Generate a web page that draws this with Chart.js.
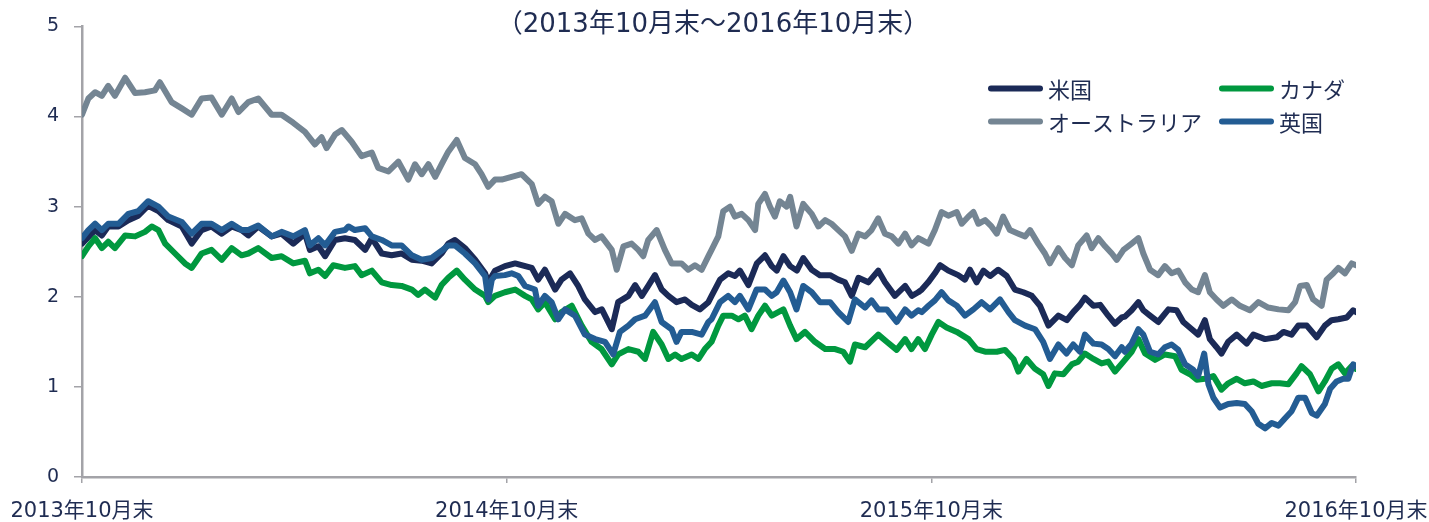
<!DOCTYPE html>
<html><head><meta charset="utf-8">
<script src="https://cdn.jsdelivr.net/npm/chart.js@4.4.0/dist/chart.umd.min.js"></script>
<style>html,body{margin:0;padding:0;background:#fff;}#wrap{width:1429px;height:522px;}</style>
</head><body><div id="wrap"><canvas id="c" width="1429" height="522"></canvas></div>
<script>
const chartTitle = '（2013年10月末～2016年10月末）';
const seriesNames = ['米国', 'カナダ', 'オーストラリア', '英国'];
const seriesColors = ['#1b2a57', '#00983f', '#748593', '#235c93'];
const xTickMonths = [0, 12, 24, 36];
const xTickLabels = ['2013年10月末', '2014年10月末', '2015年10月末', '2016年10月末'];
const yTickValues = [0, 1, 2, 3, 4, 5];

// months elapsed since end of Oct 2013
const usMonths = [0,0.37,0.56,0.74,1.03,1.31,1.59,1.87,2.16,2.44,2.82,3.10,3.38,3.66,3.95,4.23,4.51,4.70,4.98,5.36,5.64,5.97,6.30,6.44,6.68,6.87,7.15,7.43,7.71,8.00,8.19,8.47,8.75,9.03,9.32,9.60,9.88,10.16,10.35,10.54,10.82,11.11,11.39,11.48,11.67,11.95,12.24,12.42,12.71,12.89,13.08,13.37,13.55,13.79,14.02,14.21,14.50,14.69,14.97,15.15,15.44,15.63,15.82,16.00,16.19,16.38,16.57,16.80,17.04,17.23,17.46,17.70,17.79,18.03,18.26,18.45,18.59,18.83,19.07,19.30,19.49,19.63,19.82,20.01,20.20,20.38,20.62,20.85,21.14,21.37,21.56,21.75,21.94,22.22,22.50,22.69,22.97,23.26,23.45,23.63,23.73,23.91,24.10,24.25,24.48,24.76,24.95,25.09,25.28,25.47,25.66,25.89,26.13,26.36,26.60,26.84,27.07,27.31,27.59,27.83,28.01,28.20,28.34,28.58,28.77,29.00,29.19,29.38,29.47,29.66,29.85,29.99,30.18,30.41,30.70,30.93,31.12,31.36,31.54,31.73,31.87,32.06,32.20,32.39,32.63,32.91,33.10,33.43,33.76,33.95,34.18,34.37,34.61,34.89,35.12,35.31,35.50,35.74,35.92,36];
const usValues = [2.59,2.74,2.68,2.78,2.78,2.85,2.90,3.01,2.95,2.85,2.78,2.59,2.74,2.78,2.70,2.78,2.74,2.68,2.78,2.67,2.70,2.59,2.70,2.52,2.56,2.45,2.63,2.65,2.63,2.52,2.65,2.48,2.46,2.48,2.41,2.40,2.37,2.48,2.59,2.63,2.54,2.41,2.26,2.16,2.29,2.34,2.37,2.35,2.32,2.19,2.30,2.08,2.19,2.26,2.12,1.97,1.83,1.86,1.64,1.94,2.01,2.13,2.01,2.12,2.24,2.08,2.01,1.94,1.97,1.91,1.86,1.94,2.01,2.19,2.26,2.23,2.29,2.13,2.37,2.46,2.34,2.29,2.45,2.34,2.29,2.43,2.30,2.24,2.24,2.19,2.16,2.01,2.21,2.16,2.29,2.16,2.01,2.12,2.01,2.05,2.08,2.16,2.26,2.35,2.29,2.24,2.19,2.30,2.16,2.29,2.23,2.30,2.23,2.08,2.05,2.01,1.90,1.68,1.79,1.74,1.83,1.91,1.99,1.90,1.91,1.79,1.70,1.77,1.78,1.85,1.94,1.85,1.79,1.72,1.86,1.85,1.72,1.64,1.58,1.74,1.53,1.44,1.37,1.50,1.58,1.48,1.58,1.53,1.55,1.61,1.58,1.68,1.68,1.55,1.68,1.74,1.75,1.77,1.85,1.83];

const caMonths = [0,0.18,0.37,0.56,0.74,0.93,1.22,1.50,1.78,1.97,2.16,2.35,2.63,2.91,3.10,3.38,3.66,3.95,4.23,4.51,4.70,4.98,5.36,5.64,5.97,6.30,6.44,6.68,6.87,7.10,7.43,7.71,7.90,8.19,8.47,8.75,9.03,9.32,9.50,9.69,9.98,10.16,10.35,10.59,10.82,11.11,11.39,11.48,11.67,11.95,12.24,12.52,12.71,12.89,13.08,13.37,13.55,13.84,14.12,14.40,14.68,14.97,15.15,15.44,15.72,15.91,16.14,16.38,16.57,16.76,16.94,17.23,17.42,17.60,17.79,17.98,18.12,18.36,18.55,18.73,18.92,19.11,19.30,19.49,19.82,20.01,20.19,20.43,20.71,21.00,21.28,21.51,21.70,21.84,22.13,22.50,22.74,23.02,23.26,23.44,23.63,23.82,24.01,24.20,24.43,24.72,25.05,25.28,25.52,25.85,26.08,26.32,26.46,26.69,26.93,27.16,27.31,27.49,27.73,27.97,28.15,28.34,28.58,28.81,29.00,29.19,29.43,29.66,29.85,30.04,30.32,30.60,30.89,31.07,31.31,31.50,31.73,31.97,32.20,32.39,32.63,32.86,33.10,33.33,33.62,33.85,34.09,34.32,34.46,34.70,34.94,35.12,35.31,35.50,35.69,35.88,36];
const caValues = [2.45,2.56,2.65,2.54,2.61,2.54,2.68,2.67,2.72,2.78,2.74,2.59,2.48,2.37,2.32,2.48,2.52,2.41,2.54,2.46,2.48,2.54,2.43,2.45,2.37,2.40,2.26,2.30,2.23,2.35,2.32,2.34,2.24,2.29,2.16,2.13,2.12,2.08,2.02,2.08,1.99,2.13,2.21,2.29,2.19,2.08,2.01,1.94,2.01,2.05,2.08,2.01,1.97,1.86,1.94,1.75,1.83,1.90,1.68,1.50,1.42,1.25,1.36,1.42,1.39,1.31,1.61,1.47,1.31,1.36,1.31,1.36,1.31,1.42,1.50,1.68,1.79,1.79,1.75,1.79,1.64,1.79,1.90,1.79,1.86,1.68,1.53,1.61,1.50,1.42,1.42,1.39,1.28,1.47,1.44,1.58,1.50,1.41,1.53,1.42,1.53,1.42,1.58,1.72,1.66,1.61,1.53,1.42,1.39,1.39,1.41,1.31,1.17,1.31,1.20,1.14,1.01,1.15,1.14,1.25,1.28,1.37,1.31,1.26,1.28,1.17,1.28,1.39,1.53,1.37,1.30,1.36,1.34,1.19,1.14,1.08,1.09,1.12,0.97,1.04,1.09,1.04,1.06,1.01,1.04,1.04,1.03,1.15,1.23,1.14,0.95,1.06,1.20,1.25,1.15,1.23,1.20];

const auMonths = [0,0.18,0.37,0.56,0.74,0.93,1.22,1.50,1.78,2.06,2.20,2.53,2.82,3.10,3.38,3.66,3.95,4.23,4.42,4.70,4.98,5.36,5.64,5.97,6.30,6.58,6.77,6.91,7.15,7.34,7.62,7.90,8.19,8.37,8.66,8.94,9.22,9.41,9.60,9.79,9.98,10.16,10.35,10.59,10.82,11.11,11.29,11.48,11.67,11.86,12.14,12.42,12.71,12.89,13.08,13.27,13.46,13.65,13.93,14.12,14.31,14.50,14.68,14.97,15.11,15.30,15.53,15.72,15.86,16.00,16.24,16.47,16.66,16.94,17.13,17.32,17.51,17.70,17.79,17.98,18.12,18.31,18.45,18.64,18.83,19.02,19.11,19.30,19.44,19.58,19.72,19.91,20.01,20.19,20.38,20.62,20.81,21.00,21.18,21.37,21.56,21.75,21.94,22.13,22.31,22.50,22.69,22.88,23.07,23.26,23.44,23.63,23.73,23.92,24.10,24.29,24.48,24.72,24.86,25.05,25.19,25.33,25.52,25.70,25.85,26.03,26.22,26.46,26.65,26.79,27.02,27.21,27.35,27.59,27.78,27.97,28.15,28.39,28.53,28.72,28.91,29.10,29.24,29.43,29.66,29.85,29.99,30.18,30.41,30.60,30.79,30.98,31.17,31.36,31.54,31.73,31.87,32.06,32.25,32.49,32.72,33.00,33.24,33.52,33.81,34.09,34.28,34.42,34.61,34.79,35.03,35.17,35.36,35.50,35.69,35.88,36];
const auValues = [4.02,4.20,4.27,4.23,4.34,4.23,4.43,4.26,4.27,4.29,4.38,4.16,4.09,4.02,4.20,4.21,4.02,4.20,4.05,4.16,4.20,4.02,4.02,3.93,3.83,3.69,3.77,3.65,3.80,3.85,3.72,3.56,3.60,3.43,3.39,3.50,3.30,3.47,3.36,3.47,3.33,3.47,3.61,3.74,3.54,3.47,3.36,3.22,3.30,3.30,3.33,3.36,3.25,3.03,3.11,3.06,2.81,2.92,2.85,2.87,2.70,2.63,2.67,2.52,2.30,2.56,2.59,2.52,2.45,2.63,2.74,2.52,2.37,2.37,2.30,2.35,2.30,2.45,2.52,2.67,2.95,3.00,2.89,2.92,2.85,2.74,3.03,3.14,3.00,2.89,3.06,3.00,3.11,2.78,3.03,2.92,2.78,2.85,2.81,2.74,2.67,2.51,2.70,2.67,2.74,2.87,2.70,2.67,2.59,2.70,2.57,2.65,2.63,2.59,2.74,2.94,2.90,2.94,2.81,2.89,2.94,2.81,2.85,2.78,2.70,2.89,2.74,2.70,2.67,2.74,2.59,2.48,2.37,2.54,2.43,2.35,2.57,2.68,2.54,2.65,2.56,2.48,2.41,2.52,2.59,2.65,2.48,2.30,2.24,2.34,2.26,2.29,2.16,2.08,2.05,2.24,2.05,1.97,1.90,1.97,1.90,1.85,1.94,1.88,1.86,1.85,1.94,2.12,2.13,1.97,1.90,2.19,2.26,2.32,2.26,2.37,2.35];

const ukMonths = [0,0.18,0.37,0.56,0.74,1.03,1.31,1.59,1.87,2.16,2.44,2.82,3.10,3.38,3.66,3.95,4.23,4.51,4.70,4.98,5.36,5.64,5.97,6.30,6.44,6.68,6.87,7.15,7.43,7.53,7.71,8.00,8.19,8.47,8.75,9.03,9.32,9.60,9.88,10.16,10.35,10.54,10.82,11.11,11.39,11.48,11.58,11.67,11.95,12.14,12.33,12.52,12.80,12.89,13.08,13.27,13.46,13.65,13.93,14.21,14.50,14.78,15.01,15.20,15.44,15.63,15.91,16.19,16.38,16.66,16.80,16.94,17.23,17.51,17.70,17.79,18.03,18.26,18.45,18.59,18.83,19.06,19.30,19.49,19.63,19.82,20.01,20.19,20.38,20.62,20.85,21.14,21.37,21.65,21.84,22.13,22.31,22.50,22.74,23.02,23.26,23.44,23.63,23.73,23.92,24.10,24.29,24.48,24.72,24.95,25.19,25.42,25.66,25.94,26.18,26.36,26.65,26.93,27.16,27.35,27.59,27.82,28.01,28.20,28.34,28.58,28.81,29.00,29.19,29.38,29.47,29.66,29.85,29.99,30.18,30.41,30.60,30.79,30.98,31.17,31.40,31.54,31.71,31.83,31.97,32.16,32.39,32.63,32.86,33.05,33.24,33.43,33.62,33.81,33.99,34.18,34.37,34.56,34.75,34.89,35.12,35.27,35.45,35.64,35.78,35.92,36];
const ukValues = [2.65,2.74,2.81,2.74,2.81,2.81,2.92,2.95,3.06,3.00,2.89,2.83,2.70,2.81,2.81,2.74,2.81,2.74,2.74,2.79,2.67,2.72,2.67,2.74,2.57,2.65,2.57,2.72,2.74,2.78,2.74,2.76,2.67,2.63,2.57,2.57,2.46,2.41,2.43,2.51,2.57,2.57,2.48,2.37,2.23,1.97,2.19,2.23,2.24,2.26,2.23,2.12,2.08,1.90,2.01,1.94,1.75,1.86,1.79,1.58,1.53,1.50,1.36,1.61,1.68,1.75,1.79,1.94,1.72,1.64,1.50,1.61,1.61,1.58,1.72,1.75,1.94,2.01,1.94,2.01,1.86,2.08,2.08,2.01,2.05,2.18,2.05,1.86,2.12,2.05,1.94,1.94,1.83,1.72,1.97,1.88,1.96,1.86,1.86,1.72,1.86,1.79,1.85,1.83,1.90,1.96,2.05,1.96,1.90,1.79,1.86,1.94,1.86,1.97,1.83,1.74,1.68,1.64,1.50,1.31,1.47,1.37,1.47,1.39,1.58,1.48,1.47,1.42,1.34,1.44,1.39,1.48,1.64,1.58,1.39,1.36,1.44,1.47,1.41,1.25,1.19,1.12,1.37,1.03,0.88,0.77,0.81,0.82,0.81,0.73,0.59,0.54,0.60,0.57,0.65,0.73,0.88,0.88,0.71,0.68,0.81,0.98,1.06,1.09,1.09,1.25,1.23];

const TEXT = '#1f2c52';
const AXIS = '#a3a3a8';
const FONT = "'DejaVu Sans', 'Noto Sans CJK JP', sans-serif";
const CJK = "'Noto Sans CJK JP', 'DejaVu Sans', sans-serif";

const pts = (xs, ys) => xs.map((x, i) => ({ x: x, y: ys[i] }));
const seriesData = [pts(usMonths, usValues), pts(caMonths, caValues), pts(auMonths, auValues), pts(ukMonths, ukValues)];
const drawOrder = [4, 3, 2, 1];

const overlay = {
  id: 'overlay',
  afterDraw(chart) {
    const c = chart.ctx;
    const a = chart.chartArea;
    c.save();
    c.fillStyle = TEXT;
    c.textBaseline = 'middle';
    c.textAlign = 'center';
    c.font = '26px ' + FONT;
    c.fillText(chartTitle, (a.left + a.right) / 2 - 6, a.top - 1);
    // legend: two columns, two rows
    const cols = [a.left + 906, a.left + 1137];
    const rows = [a.top + 62, a.top + 95];
    const place = [[0, 0], [1, 0], [0, 1], [1, 1]];
    c.textAlign = 'left';
    c.font = '22px ' + CJK;
    seriesNames.forEach((name, i) => {
      const x = cols[place[i][0]], y = rows[place[i][1]];
      c.strokeStyle = seriesColors[i];
      c.lineWidth = 6;
      c.lineCap = 'round';
      c.beginPath(); c.moveTo(x + 3, y); c.lineTo(x + 52, y); c.stroke();
      c.fillText(name, x + 60, y + 1);
    });
    c.restore();
  }
};

new Chart(document.getElementById('c'), {
  type: 'line',
  data: {
    datasets: seriesNames.map((n, i) => ({
      label: n,
      data: seriesData[i],
      borderColor: seriesColors[i],
      backgroundColor: seriesColors[i],
      borderWidth: 6,
      pointRadius: 0,
      tension: 0,
      fill: false,
      order: drawOrder[i],
      borderJoinStyle: 'round',
      borderCapStyle: 'round'
    }))
  },
  options: {
    responsive: false,
    animation: false,
    layout: { padding: { left: 0, right: 73, top: 20, bottom: 0 } },
    plugins: { legend: { display: false }, tooltip: { enabled: false }, title: { display: false } },
    scales: {
      x: {
        type: 'linear', min: 0, max: 36,
        afterBuildTicks: s => { s.ticks = xTickMonths.map(v => ({ value: v })); },
        afterFit: s => { s.height = 45; s.paddingLeft = 0; s.paddingRight = 0; },
        ticks: {
          autoSkip: false, maxRotation: 0, padding: 16, color: TEXT,
          font: { family: FONT, size: 21 },
          callback: (v) => xTickLabels[xTickMonths.indexOf(v)]
        },
        grid: { display: true, drawOnChartArea: false, drawTicks: true, tickLength: 6, color: AXIS, lineWidth: 1.5 },
        border: { display: true, color: AXIS, width: 2.5 }
      },
      y: {
        min: 0, max: 5,
        afterBuildTicks: s => { s.ticks = yTickValues.map(v => ({ value: v })); },
        afterFit: s => { s.width = 82; },
        ticks: { padding: 15, color: TEXT, font: { family: FONT, size: 19 } },
        grid: { display: true, drawOnChartArea: false, drawTicks: true, tickLength: 8, color: AXIS, lineWidth: 1.5 },
        border: { display: true, color: AXIS, width: 2.5 }
      }
    }
  },
  plugins: [overlay]
});
</script>
</body></html>
